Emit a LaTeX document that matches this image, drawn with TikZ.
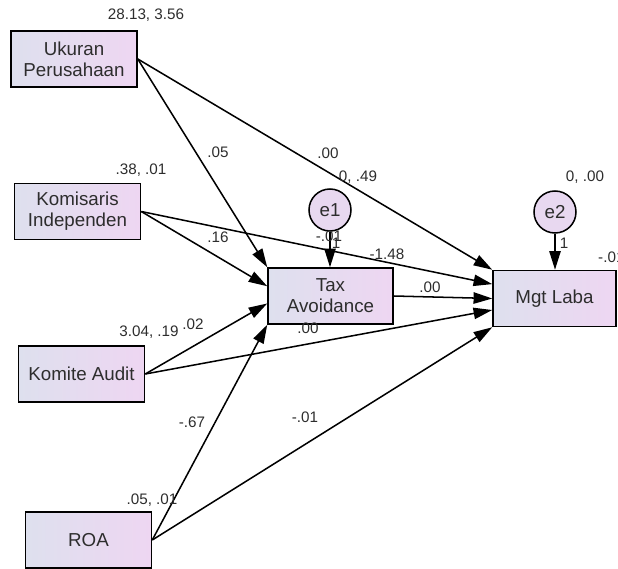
\documentclass[tikz,border=0pt]{standalone}
\usepackage{fontspec}
\setmainfont{Liberation Sans}
\usetikzlibrary{arrows.meta,calc}
\definecolor{boxleft}{RGB}{222,224,238}
\definecolor{boxright}{RGB}{238,214,242}
\definecolor{errfill}{RGB}{232,216,240}
\definecolor{txt}{RGB}{45,45,45}
\begin{document}
\begin{tikzpicture}[x=0.03cm, y=-0.03cm,
    var/.style={draw, line width=1.3pt, left color=boxleft, right color=boxright,
      minimum width=3.78cm, minimum height=1.68cm, align=center, inner sep=0pt,
      text=txt, font=\fontsize{16}{18}\selectfont},
    err/.style={circle, draw, line width=1.3pt, fill=errfill, minimum size=1.26cm,
      inner sep=0pt, text=txt, font=\fontsize{16}{18}\selectfont},
    reg/.style={line width=1.3pt, -{Triangle[length=0.56cm,width=0.34cm]}},
    lbl/.style={text=txt, inner sep=0pt, font=\fontsize{13}{15}\selectfont}]
  \useasboundingbox (0,0) rectangle (618,569);
  \node[var] (uk)  at (74,59)      {Ukuran\\Perusahaan};
  \node[var] (kom) at (77.5,211.5) {Komisaris\\Independen};
  \node[var] (ka)  at (81.5,374)   {Komite Audit};
  \node[var] (roa) at (88.5,540)   {ROA};
  \node[var, minimum width=3.75cm] (tax) at (330.5,296) {Tax\\Avoidance};
  \node[var, minimum width=3.69cm] (mgt) at (554.5,298.5) {Mgt Laba};
  \node[err] (e1) at (330,210) {e1};
  \node[err] (e2) at (555,212) {e2};

  \draw[reg] (uk.east)  -- (tax.north west);
  \draw[reg] (uk.east)  -- (mgt.north west);
  \draw[reg] (kom.east) -- ($(tax.north west)!.33!(tax.south west)$);
  \draw[reg] (kom.east) -- ($(mgt.north west)!.25!(mgt.south west)$);
  \draw[reg] (ka.east)  -- ($(tax.north west)!.63!(tax.south west)$);
  \draw[reg] (ka.east)  -- ($(mgt.north west)!.7!(mgt.south west)$);
  \draw[reg] (roa.east) -- (tax.south west);
  \draw[reg] (roa.east) -- (mgt.south west);
  \draw[reg] (tax.east) -- (mgt.west);
  \draw[reg] (e1.south) -- (e1.south |- tax.north);
  \draw[reg] (e2.south) -- (e2.south |- mgt.north);

  \node[lbl] (vuk)  at (146,15)  {28.13, 3.56};
  \node[lbl] (vkom) at (141,170) {.38, .01};
  \node[lbl] (vka)  at (149,332) {3.04, .19};
  \node[lbl] (vroa) at (152,500) {.05, .01};
  \node[lbl] (ve1)  at (358,177) {0, .49};
  \node[lbl] (ve2)  at (585,177) {0, .00};
  \node[lbl] (itax) at (329,236) {-.01};
  \node[lbl] (ltax) at (336,243) {1};
  \node[lbl] (lmgt) at (564,243) {1};
  \node[lbl, anchor=west] (imgt) at (598,257) {-.01};
  \node[lbl] (b1) at (218,152) {.05};
  \node[lbl] (b2) at (328,153) {.00};
  \node[lbl] (b3) at (218,237) {.16};
  \node[lbl] (b4) at (387,254) {-1.48};
  \node[lbl] (b5) at (193,324) {.02};
  \node[lbl] (b6) at (308,328) {.00};
  \node[lbl] (b7) at (192,422) {-.67};
  \node[lbl] (b8) at (305,417) {-.01};
  \node[lbl] (b9) at (430,287) {.00};
\end{tikzpicture}
\end{document}
